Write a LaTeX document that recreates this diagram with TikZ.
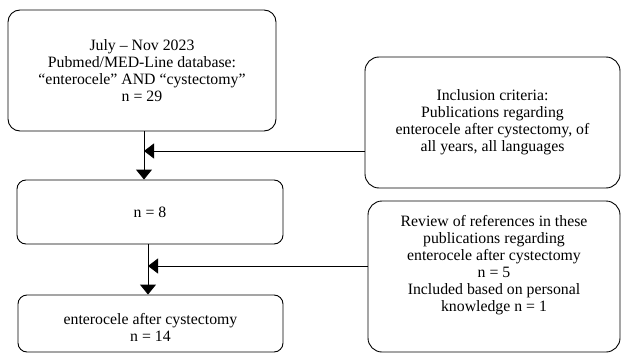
\documentclass[tikz,border=0pt]{standalone}
\usepackage{fontspec}
\setmainfont{Liberation Serif}
\usetikzlibrary{arrows.meta}
\tikzset{
  box/.style={draw, line width=0.9pt, rounded corners=#1, align=center, inner sep=0pt,
    font=\fontsize{15.8}{17}\selectfont},
  box/.default=12pt,
  txt/.style={align=center, inner sep=0pt, font=\fontsize{15.8}{17}\selectfont},
  flow/.style={draw, line width=0.9pt, -{Triangle[width=16pt,length=10pt]}}
}
\begin{document}
\begin{tikzpicture}[x=1pt,y=-1pt]
\useasboundingbox (0,0) rectangle (621,353);
\node[box, minimum width=268pt, minimum height=121pt] (A) at (142,70.5)
  {July -- Nov 2023\\Pubmed/MED-Line database:\\“enterocele” AND “cystectomy”\\n = 29};
\node[box=9pt, minimum width=266pt, minimum height=64pt] (B) at (150,212) {n = 8};
\node[box=9pt, minimum width=265pt, minimum height=57pt] (C) at (150.5,323.5) {};
\node[txt] (Ct) at (150.5,327) {enterocele after cystectomy\\n = 14};
\node[box=14pt, minimum width=255pt, minimum height=131pt] (D) at (492.5,122.5)
  {Inclusion criteria:\\Publications regarding\\enterocele after cystectomy, of\\all years, all languages};
\node[box=14pt, minimum width=252pt, minimum height=151pt] (E) at (494,276.5) {};
\node[txt] (Et) at (494,265.5)
  {Review of references in these\\publications regarding\\enterocele after cystectomy\\n = 5\\Included based on personal\\knowledge n = 1};
\coordinate (j1) at (144,151);
\coordinate (j2) at (148,266);
\draw[flow] (A.south -| j1) -- (B.north -| j1);
\draw[flow, -{Triangle[width=15pt,length=10pt]}] (D.west |- j1) -- (j1);
\draw[flow] (B.south -| j2) -- (C.north -| j2);
\draw[flow, -{Triangle[width=15pt,length=10pt]}] (E.west |- j2) -- (j2);
\end{tikzpicture}
\end{document}
